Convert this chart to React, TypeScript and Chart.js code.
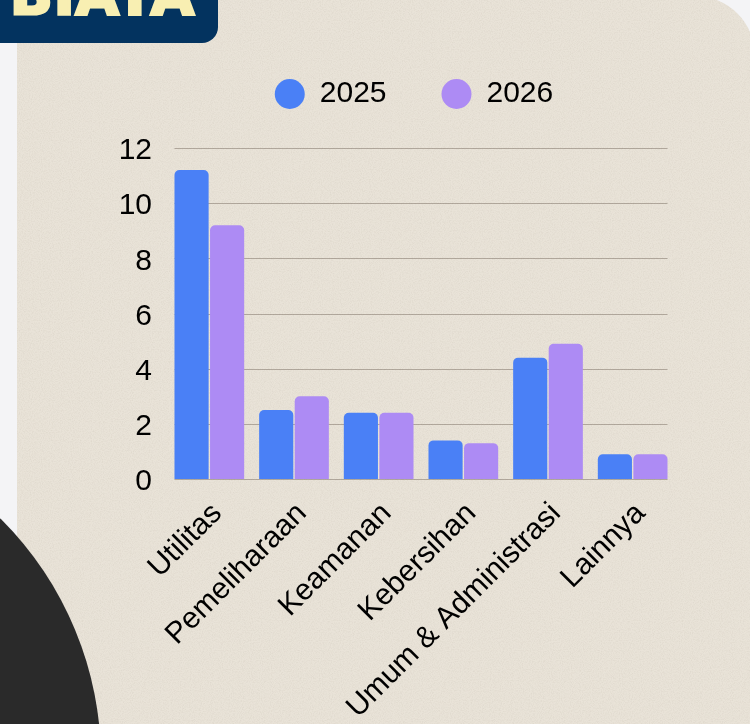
import React, { useEffect, useRef } from "react";
import { Chart, registerables } from "chart.js";

Chart.register(...registerables);

const categories = ["Utilitas", "Pemeliharaan", "Keamanan", "Kebersihan", "Umum & Administrasi", "Lainnya"];
const seriesLabels = ["2025", "2026"];
const values2025 = [11.2, 2.5, 2.4, 1.4, 4.4, 0.9];
const values2026 = [9.2, 3.0, 2.4, 1.3, 4.9, 0.9];
const yMin = 0;
const yMax = 12;
const yStep = 2;

const BLUE = "#4a80f6";
const PURPLE = "#ad8bf4";
const FONT = "'Liberation Sans', Arial, sans-serif";

const PAPER_NOISE =
  "url(\"data:image/svg+xml;utf8," +
  encodeURIComponent(
    "<svg xmlns='http://www.w3.org/2000/svg' width='300' height='300'>" +
      "<filter id='n'><feTurbulence type='fractalNoise' baseFrequency='0.9' numOctaves='2' stitchTiles='stitch'/>" +
      "<feColorMatrix type='matrix' values='0 0 0 0 0.45  0 0 0 0 0.4  0 0 0 0 0.33  0 0 0 -1.6 1.0'/></filter>" +
      "<rect width='300' height='300' filter='url(%23n)' opacity='0.22'/></svg>"
  ).replace(/%2523/g, "%23") +
  "\")";

const insetGrid = {
  id: "insetGrid",
  beforeDatasetsDraw(chart: any) {
    const ctx = chart.ctx;
    const y = chart.scales.y;
    const first = chart.getDatasetMeta(0).data[0];
    const last = chart.getDatasetMeta(1).data[categories.length - 1];
    if (!first || !last) return;
    const left = first.x - first.width / 2;
    const right = last.x + last.width / 2;
    ctx.save();
    ctx.strokeStyle = "rgba(60,45,30,0.32)";
    ctx.lineWidth = 1;
    y.ticks.forEach((t: any) => {
      const py = Math.round(y.getPixelForValue(t.value)) + 0.5;
      ctx.beginPath();
      ctx.moveTo(left, py);
      ctx.lineTo(right, py);
      ctx.stroke();
    });
    ctx.restore();
  },
};

const legendTweak = {
  id: "legendTweak",
  beforeInit(chart: any) {
    const lg = chart.legend;
    if (!lg) return;
    const orig = lg.fit;
    lg.fit = function () {
      orig.call(this);
      this.height = 124;
    };
  },
  afterLayout(chart: any) {
    const lg = chart.legend;
    if (!lg) return;
    lg.left -= 7;
    lg.right -= 7;
  },
};

export default function App() {
  const ref = useRef<HTMLCanvasElement | null>(null);

  useEffect(() => {
    if (!ref.current) return;
    const chart = new Chart(ref.current, {
      type: "bar",
      data: {
        labels: categories,
        datasets: [
          {
            label: seriesLabels[0],
            data: values2025,
            backgroundColor: BLUE,
            borderRadius: 5,
            borderSkipped: "bottom",
            categoryPercentage: 0.84,
            barPercentage: 0.96,
            pointStyle: "circle",
          },
          {
            label: seriesLabels[1],
            data: values2026,
            backgroundColor: PURPLE,
            borderRadius: 5,
            borderSkipped: "bottom",
            categoryPercentage: 0.84,
            barPercentage: 0.96,
            pointStyle: "circle",
          },
        ],
      },
      options: {
        animation: false,
        responsive: false,
        devicePixelRatio: 1,
        layout: { padding: { top: 24, right: 75, bottom: 0, left: 0 } },
        plugins: {
          tooltip: { enabled: false },
          legend: {
            display: true,
            position: "top",
            fullSize: false,
            labels: {
              usePointStyle: true,
              pointStyle: "circle",
              pointStyleWidth: 30,
              boxHeight: 21.2,
              padding: 55,
              color: "#000",
              font: { family: FONT, size: 30 },
            },
          },
        },
        scales: {
          x: {
            grid: { display: false, drawTicks: false },
            border: { display: false },
            ticks: {
              color: "#000",
              font: { family: FONT, size: 30 },
              minRotation: 45,
              maxRotation: 45,
              autoSkip: false,
              padding: 17,
              labelOffset: 8,
            },
            afterFit(scale: any) {
              scale.height = 245;
            },
          },
          y: {
            min: yMin,
            max: yMax,
            grid: { display: false, drawTicks: false },
            border: { display: false },
            ticks: {
              stepSize: yStep,
              color: "#000",
              font: { family: FONT, size: 30 },
              padding: 15,
              labelOffset: 3,
            },
            afterFit(scale: any) {
              scale.width = 167;
            },
          },
        },
      },
      plugins: [insetGrid, legendTweak],
    });
    return () => chart.destroy();
  }, []);

  return (
    <div
      style={{
        position: "fixed",
        left: 0,
        top: 0,
        width: 750,
        height: 724,
        overflow: "hidden",
        background: "#f4f4f6",
      }}
    >
      <div
        style={{
          position: "absolute",
          left: 17,
          top: -4,
          width: 738,
          height: 740,
          backgroundColor: "#e9e3d8",
          backgroundImage: PAPER_NOISE,
          borderTopRightRadius: 60,
        }}
      />
      <div
        style={{
          position: "absolute",
          left: -579,
          top: 420,
          width: 680,
          height: 680,
          borderRadius: "50%",
          background: "#2a2a2a",
        }}
      />
      <div
        style={{
          position: "absolute",
          left: 0,
          top: 0,
          width: 218,
          height: 43,
          background: "#03335f",
          borderBottomRightRadius: 16,
          overflow: "hidden",
        }}
      >
        <div
          style={{
            position: "absolute",
            left: 10,
            top: -33,
            fontFamily: "'DejaVu Sans', sans-serif",
            fontWeight: 900,
            fontSize: 56,
            lineHeight: "56px",
            color: "#f8efb2",
            WebkitTextStroke: "3px #f8efb2",
            letterSpacing: 1,
            whiteSpace: "nowrap",
          }}
        >
          BIAYA
        </div>
      </div>
      <canvas
        ref={ref}
        width={750}
        height={724}
        style={{ position: "absolute", left: 0, top: 0, width: 750, height: 724 }}
      />
    </div>
  );
}
